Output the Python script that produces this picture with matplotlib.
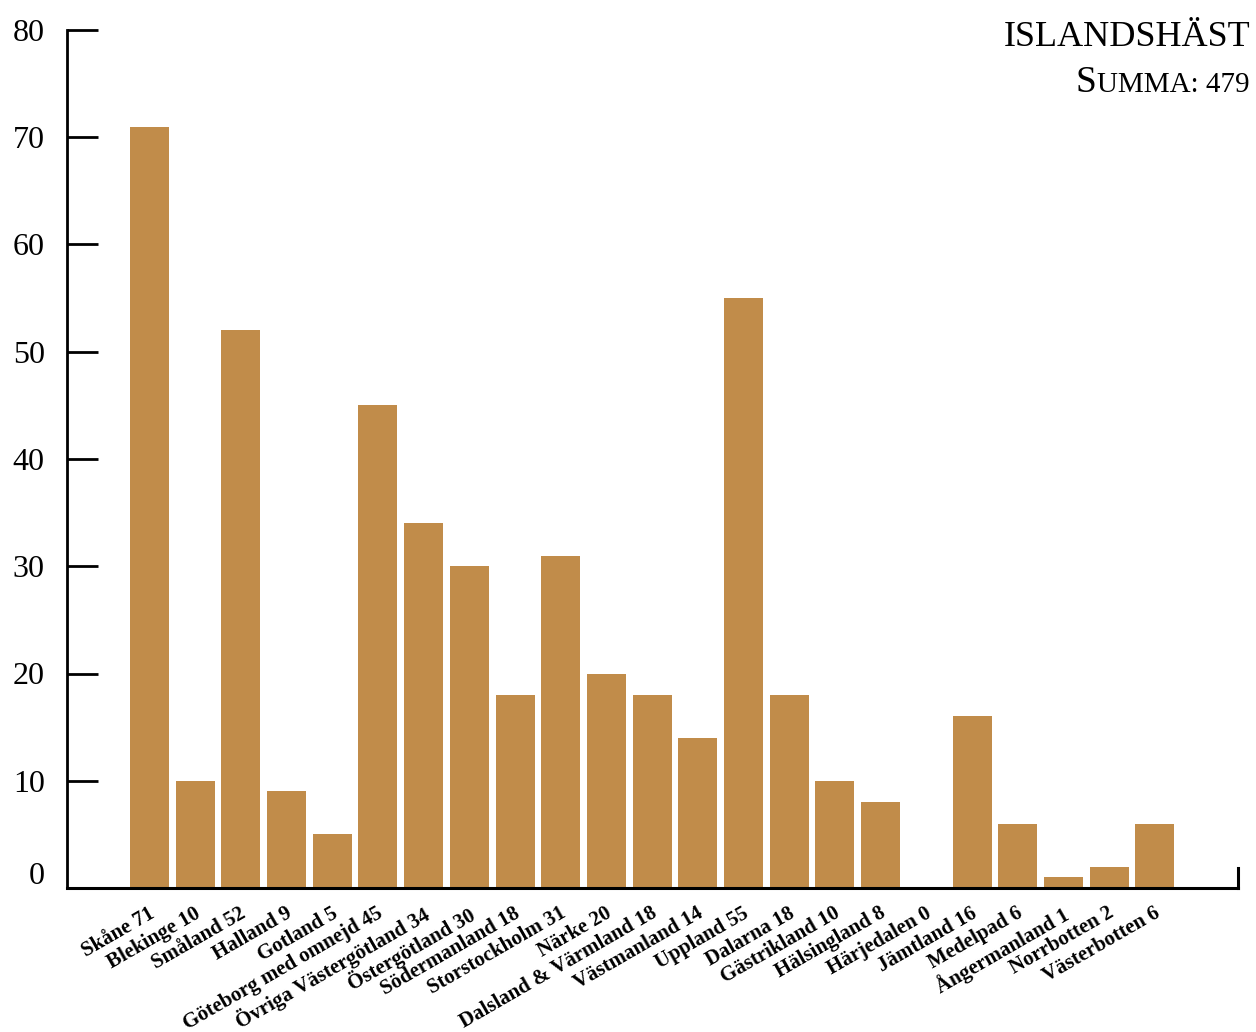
import matplotlib
matplotlib.use("Agg")
import matplotlib.pyplot as plt
from matplotlib.lines import Line2D
from matplotlib.transforms import ScaledTranslation

regions = ["Skåne", "Blekinge", "Småland", "Halland", "Gotland",
           "Göteborg med omnejd", "Övriga Västergötland", "Östergötland",
           "Södermanland", "Storstockholm", "Närke", "Dalsland & Värmland",
           "Västmanland", "Uppland", "Dalarna", "Gästrikland", "Hälsingland",
           "Härjedalen", "Jämtland", "Medelpad", "Ångermanland", "Norrbotten",
           "Västerbotten"]
counts = [71, 10, 52, 9, 5, 45, 34, 30, 18, 31, 20, 18, 14, 55, 18, 10, 8,
          0, 16, 6, 1, 2, 6]
y_ticks = [0, 10, 20, 30, 40, 50, 60, 70, 80]
title = "ISLANDSHÄST"

plt.rcParams['font.family'] = ['Liberation Serif', 'DejaVu Serif']
bar_color = "#C18C4A"

fig = plt.figure(figsize=(12.56, 10.32), dpi=100)
ax = fig.add_axes([67/1256, 1-888/1032, (1238-67)/1256, (888-30)/1032])

xs = list(range(len(regions)))
ax.bar(xs, counts, width=0.853, color=bar_color, zorder=1)
ax.set_xlim(-1.805, 23.82)
ax.set_ylim(0, 80)

for s in ['top', 'right']:
    ax.spines[s].set_visible(False)
ax.spines['left'].set_linewidth(2)
ax.spines['bottom'].set_linewidth(2.2)
ax.spines['left'].set_zorder(3)
ax.spines['bottom'].set_zorder(3)

ax.set_yticks(y_ticks)
ax.set_yticklabels([str(v) for v in y_ticks], fontsize=23)
ax.tick_params(axis='y', direction='in', length=22, width=2, pad=16, color='black')
ax.set_xticks([])

# raise the "0" label a bit, as in the reference
lab0 = ax.get_yticklabels()[0]
lab0.set_transform(lab0.get_transform() + ScaledTranslation(0, 15/100, fig.dpi_scale_trans))

# outer tick at right end of x axis
ax.add_line(Line2D([1, 1], [0, 20/858], transform=ax.transAxes,
                   color='black', lw=2.2, clip_on=False, zorder=3))

labels = [f"{r} {c}" for r, c in zip(regions, counts)]
for x, lab in zip(xs, labels):
    ax.annotate(lab, xy=(x, 0), xycoords=('data', 'axes fraction'),
                xytext=(-1, -11), textcoords='offset points',
                ha='right', va='top', rotation=30, rotation_mode='anchor',
                fontsize=15, fontweight='semibold')

fig.text(1250/1256, 1-37/1032, title, ha='right', va='center', fontsize=26)

# small-caps "Summa: 479"
t2 = fig.text(1250/1256, 1-92/1032, "UMMA: 479", ha='right', va='baseline', fontsize=21)
fig.canvas.draw()
bb = t2.get_window_extent()
fig.text(bb.x0/1256 - 1/1256, 1-92/1032, "S", ha='right', va='baseline', fontsize=27)

fig.savefig("out.png", dpi=100)
